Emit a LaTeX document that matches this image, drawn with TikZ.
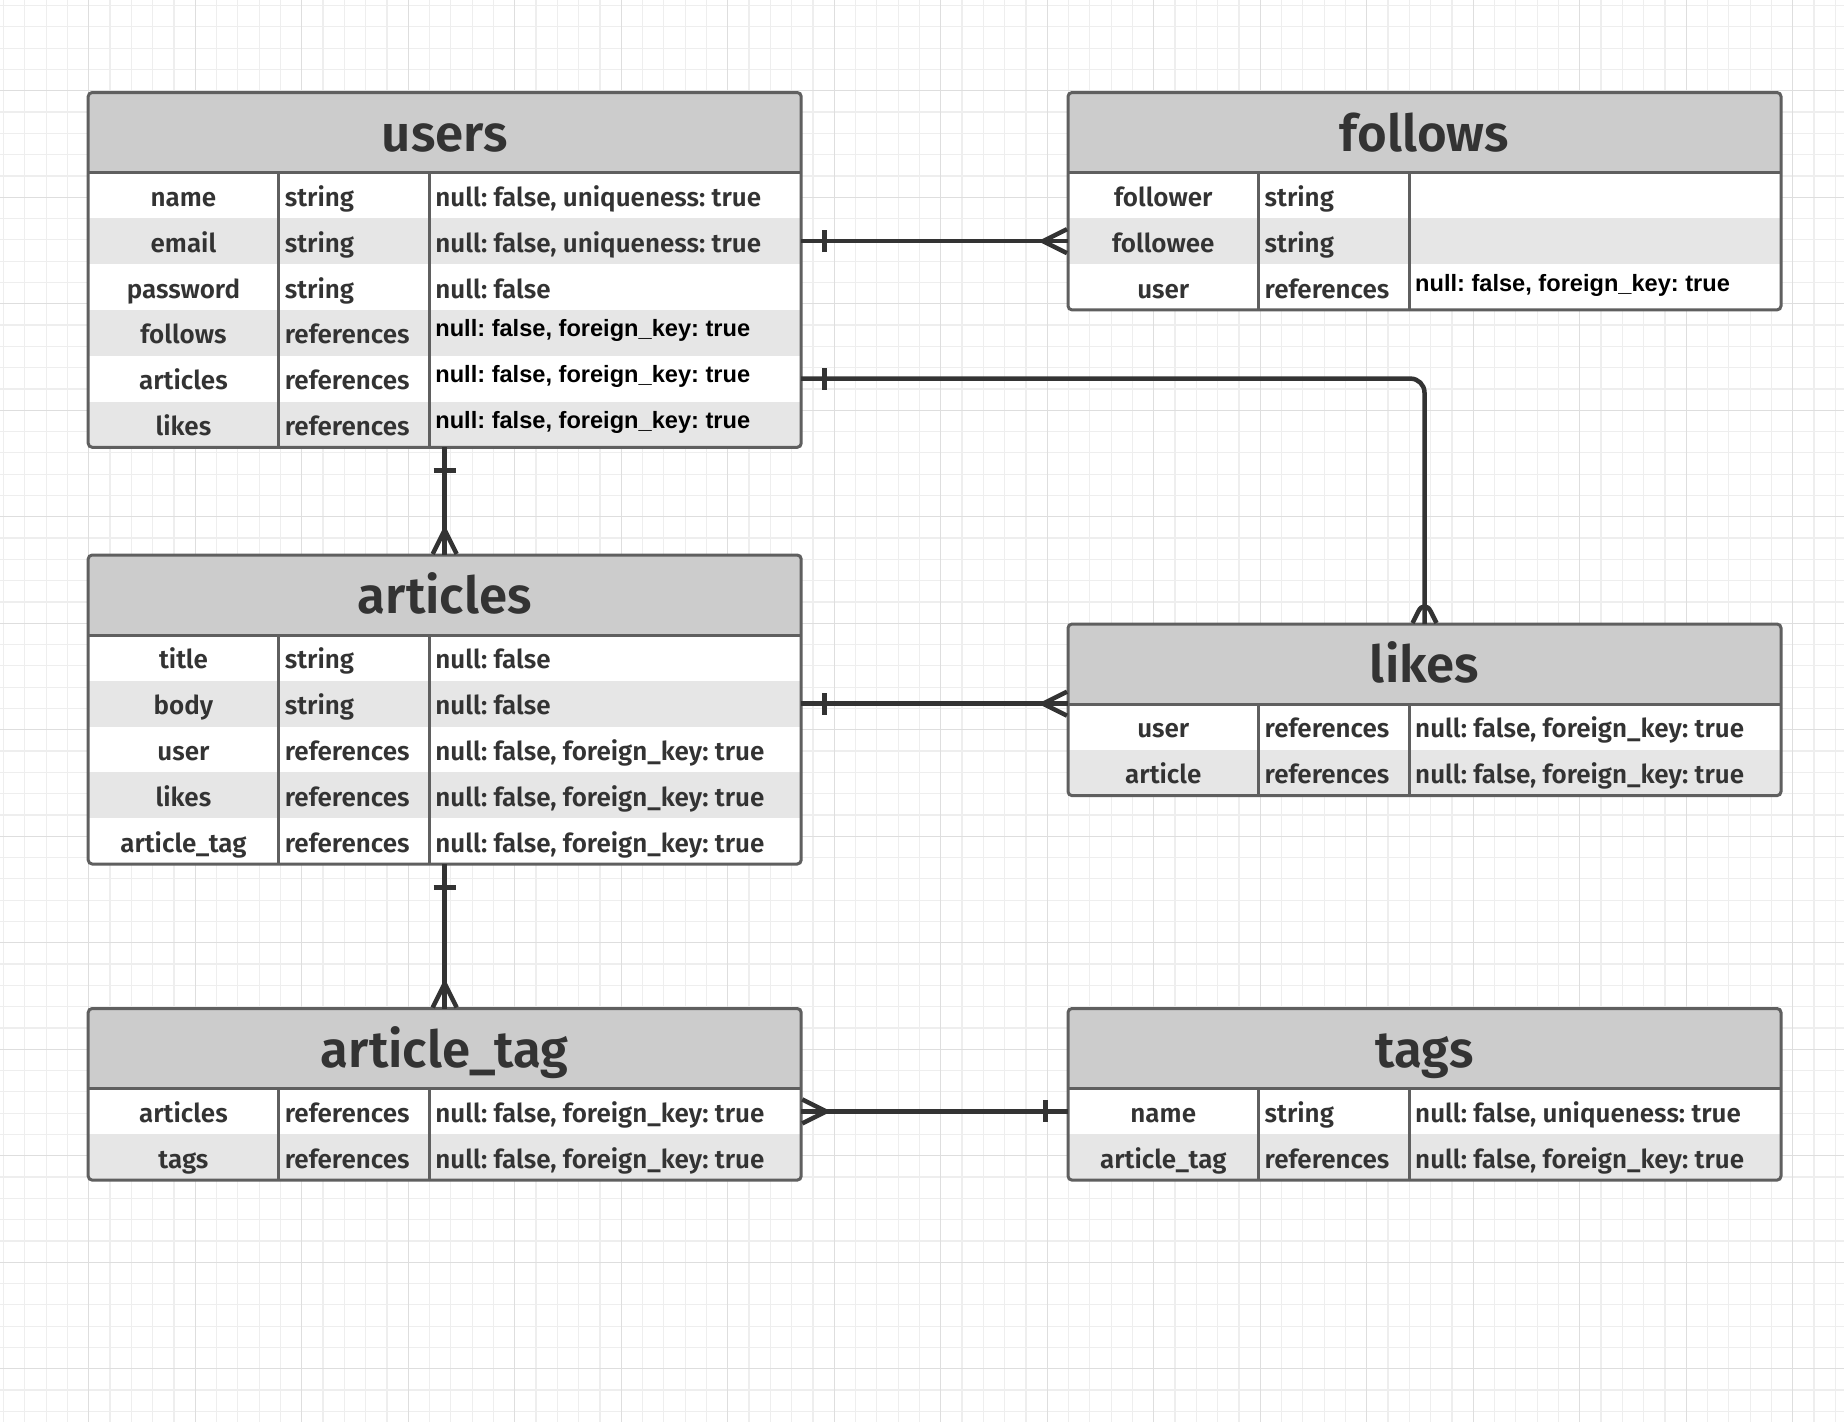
\documentclass[tikz,border=0pt]{standalone}
\usepackage{fontspec}
\setmainfont{Fira Sans SemiBold}
\newfontfamily\keyfont{Liberation Sans}
\usetikzlibrary{positioning,decorations.markings}

\definecolor{ink}{HTML}{333333}
\definecolor{edge}{HTML}{5F5F5F}
\definecolor{headfill}{HTML}{CCCCCC}
\definecolor{rowfill}{HTML}{E6E6E6}
\definecolor{gridlo}{HTML}{EEEEEE}
\definecolor{gridhi}{HTML}{DEDEDE}

% #1 name, #2 x, #3 y, #4 rows, #5 title, #6 field/type/options/style
\newcommand{\ertable}[6]{%
  \pgfmathsetmacro\tabh{80+#4*45.8}
  \node[tabbox, minimum height=\tabh pt] (#1) at (#2,#3) {};
  \node[headbox] (#1-head) at (#2,#3) {};
  \node[titletext] at ([yshift=-18.5pt]#1-head.center) {#5};
  \foreach \f/\t/\o/\s [count=\i] in {#6} {
    \ifodd\i\relax \def\rowcol{white}\else \def\rowcol{rowfill}\fi
    \node[rowbox, fill=\rowcol] (#1-\i) at (#2,{#3+80+(\i-1)*45.8}) {};
    \node[fieldtext] at ([xshift=95.25pt,yshift=-11pt]#1-\i.west) {\f};
    \node[typetext] at ([xshift=196.5pt,yshift=-11pt]#1-\i.west) {\t};
    \node[\s] at ([xshift=347pt,yshift=-11pt]#1-\i.west) {\o};
  }
  \draw[divider] ([xshift=190.5pt]#1-head.south west) -- ([xshift=190.5pt]#1.south west);
  \draw[divider] ([xshift=341.3pt]#1-head.south west) -- ([xshift=341.3pt]#1.south west);
  \draw[divider] (#1-head.south west) -- (#1-head.south east);
  \draw[divider, rounded corners=4pt] (#1.north west) rectangle (#1.south east);
}

\begin{document}
\frenchspacing
\begin{tikzpicture}[x=1pt, y=-1pt,
    tabbox/.style={anchor=north west, minimum width=713pt, inner sep=0pt, outer sep=0pt, fill=white},
    headbox/.style={anchor=north west, minimum width=713pt, minimum height=80pt, inner sep=0pt, outer sep=0pt, fill=headfill},
    rowbox/.style={anchor=north west, minimum width=713pt, minimum height=45.8pt, inner sep=0pt, outer sep=0pt},
    titletext/.style={anchor=base, inner sep=0pt, text=ink, font=\fontsize{51}{58}\selectfont},
    fieldtext/.style={anchor=base, inner sep=0pt, text=ink, font=\fontsize{26}{30}\selectfont},
    typetext/.style={anchor=base west, inner sep=0pt, text=ink, font=\fontsize{26}{30}\selectfont},
    opttext/.style={typetext},
    keytext/.style={anchor=base west, inner sep=0pt, yshift=7pt, text=black, font=\keyfont\bfseries\fontsize{23.6}{28}\selectfont},
    divider/.style={draw=edge, line width=3pt},
    gridminor/.style={draw=gridlo, line width=1.2pt},
    gridmajor/.style={draw=gridhi, line width=1.4pt},
    link/.style={draw=ink, line width=4.5pt, postaction={decorate, decoration={markings,
        mark=at position 23pt with {\draw[ink, line width=5pt] (0pt,-11pt) -- (0pt,11pt);},
        mark=at position 1 with {\draw[ink, line width=4.5pt] (-1pt,12pt) -- (-25pt,0pt) -- (-1pt,-12pt);}}}}]

    \fill[white] (0,0) rectangle (1844,1422);
    \useasboundingbox (0,0) rectangle (1844,1422);
    \foreach \k in {0,...,86} \draw[gridminor] ({3.5+21.3*\k},0) -- ({3.5+21.3*\k},1422);
    \foreach \k in {0,...,66} \draw[gridminor] (0,{5.5+21.3*\k}) -- (1844,{5.5+21.3*\k});
    \foreach \k in {0,...,16} \draw[gridmajor] ({88.7+106.5*\k},0) -- ({88.7+106.5*\k},1422);
    \foreach \k in {0,...,12} \draw[gridmajor] (0,{90.7+106.5*\k}) -- (1844,{90.7+106.5*\k});

    \ertable{users}{88.2}{92.5}{6}{users}{
        name/string/{null: false, uniqueness: true}/opttext,
        email/string/{null: false, uniqueness: true}/opttext,
        password/string/{null: false}/opttext,
        follows/references/{null: false, foreign\_key: true}/keytext,
        articles/references/{null: false, foreign\_key: true}/keytext,
        likes/references/{null: false, foreign\_key: true}/keytext}
    \ertable{follows}{1068}{92.5}{3}{follows}{
        follower/string/{}/opttext,
        followee/string/{}/opttext,
        user/references/{null: false, foreign\_key: true}/keytext}
    \ertable{articles}{88.2}{555}{5}{articles}{
        title/string/{null: false}/opttext,
        body/string/{null: false}/opttext,
        user/references/{null: false, foreign\_key: true}/opttext,
        likes/references/{null: false, foreign\_key: true}/opttext,
        article\_tag/references/{null: false, foreign\_key: true}/opttext}
    \ertable{likes}{1068}{624}{2}{likes}{
        user/references/{null: false, foreign\_key: true}/opttext,
        article/references/{null: false, foreign\_key: true}/opttext}
    \ertable{articletag}{88.2}{1008.5}{2}{article\_tag}{
        articles/references/{null: false, foreign\_key: true}/opttext,
        tags/references/{null: false, foreign\_key: true}/opttext}
    \ertable{tags}{1068}{1008.5}{2}{tags}{
        name/string/{null: false, uniqueness: true}/opttext,
        article\_tag/references/{null: false, foreign\_key: true}/opttext}

    \draw[link] (users-2.east) -- (follows-2.west);
    \draw[link, rounded corners=14pt] (users-5.east) -| (likes.north);
    \draw[link] (users.south) -- (articles.north);
    \draw[link] (articles-2.east) -- (likes.west |- articles-2.east);
    \draw[link] (articles.south) -- (articletag.north);
    \draw[link] (tags-1.west) -- (articletag-1.east);
\end{tikzpicture}
\end{document}
